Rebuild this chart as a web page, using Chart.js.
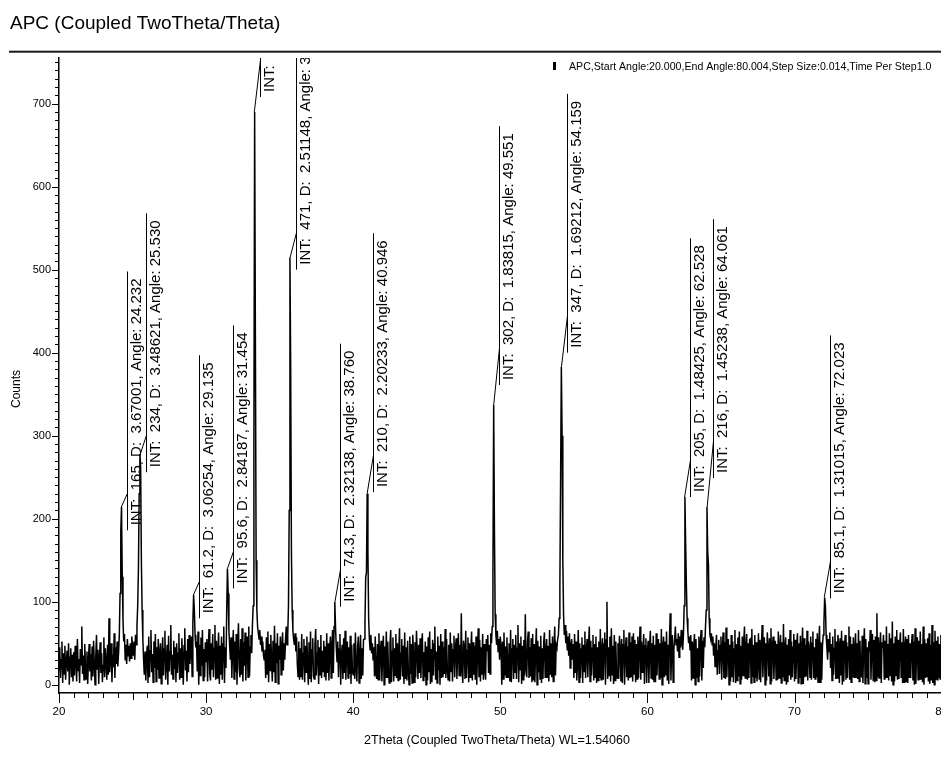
<!DOCTYPE html>
<html><head><meta charset="utf-8">
<script src="https://cdn.jsdelivr.net/npm/chart.js@4.4.1/dist/chart.umd.min.js"></script>
<style>
html,body{margin:0;padding:0;background:#fff;overflow:hidden;}
#wrap{position:absolute;left:0;top:0;width:960px;height:759px;}
</style></head><body>
<div id="wrap"><canvas id="c"></canvas></div>
<script>
// ---------------- data ----------------
const titleText = 'APC (Coupled TwoTheta/Theta)';
const legendText = 'APC,Start Angle:20.000,End Angle:80.004,Step Size:0.014,Time Per Step1.0';
const xAxisTitle = '2Theta (Coupled TwoTheta/Theta) WL=1.54060';
const yAxisTitle = 'Counts';

const startAngle = 20.0;
const endAngle = 80.004;
const sampleStep = 0.05;   // read-off resolution (degrees 2Theta)

// counts, one row per degree (20.00 ... 79.95), then 80.00
const counts = [
18,45,8,30,52,2,38,13,47,6,27,41,16,50,0,33,44,9,36,4,
39,11,47,29,4,55,17,31,2,43,24,70,13,35,6,49,22,7,40,1,
28,49,16,37,5,46,10,53,26,0,34,60,19,42,1,31,51,14,38,3,
23,57,9,44,27,6,48,12,80,15,33,50,3,36,21,62,8,45,25,52,
22,38,60,110,185,214,130,78,52,61,30,48,25,55,35,47,28,50,32,58,
45,35,52,30,60,48,70,95,140,230,278,262,150,90,55,30,12,40,5,33,
47,2,58,9,41,66,15,37,3,52,20,61,4,45,18,55,8,39,50,1,
34,57,11,43,65,6,26,48,0,59,16,40,72,12,36,7,53,19,45,3,
50,14,38,62,6,44,9,56,33,0,47,68,17,41,4,55,15,60,25,42,
58,10,75,108,90,60,45,52,16,64,0,48,11,57,23,66,5,43,9,51,
28,55,4,46,67,13,5,50,18,61,9,44,72,6,53,8,40,63,1,47,
12,58,6,49,70,2,45,20,88,140,110,65,48,30,57,8,43,66,7,52,
15,61,0,48,74,19,9,55,12,68,4,51,23,63,5,46,58,9,70,10,
45,60,38,72,95,300,690,420,150,90,70,62,55,66,48,58,40,52,35,30,
42,8,57,13,64,3,49,17,60,28,4,53,15,71,3,50,26,62,1,47,
30,58,12,45,63,17,50,30,55,70,48,60,95,210,515,380,160,90,65,55,
48,62,40,57,25,10,52,6,44,9,61,6,38,55,3,47,15,58,23,0,
51,7,64,3,42,56,10,7,49,67,11,38,54,1,45,12,60,8,41,16,
53,9,46,5,62,14,50,5,40,58,8,47,66,14,70,100,68,45,28,52,
9,43,61,0,35,48,7,56,14,65,6,40,52,8,45,13,59,1,48,16,
12,50,7,63,19,4,46,58,2,35,60,7,44,11,54,55,75,130,135,230,
160,80,55,42,60,38,50,30,45,10,58,13,7,49,6,62,5,41,53,4,
37,59,0,46,8,64,9,52,15,2,48,66,3,40,57,4,44,11,61,8,
50,5,42,68,6,38,55,10,47,1,63,7,45,5,53,16,0,58,13,49,
2,60,38,3,51,9,65,41,7,48,14,56,8,44,62,5,39,9,52,0,
46,5,57,15,64,1,43,3,54,11,49,70,6,40,2,58,17,47,0,61,
8,52,9,45,13,67,8,55,19,6,48,4,63,16,50,4,42,59,9,44,
56,7,40,62,11,48,10,86,18,2,53,45,7,65,8,41,57,3,50,9,
43,64,5,51,12,47,6,58,0,40,68,9,54,4,45,12,61,6,49,18,
6,55,41,60,14,48,13,62,50,70,140,337,190,85,60,48,65,40,55,30,
58,45,0,52,7,63,11,46,9,57,20,8,50,4,66,3,43,55,7,48,
15,60,7,44,72,3,50,18,58,1,47,6,54,11,85,20,9,52,64,8,
45,10,56,3,61,5,49,3,42,68,0,53,15,46,7,59,2,44,7,51,
63,9,40,55,8,47,4,66,12,50,9,58,4,43,70,11,48,45,55,60,
80,120,250,383,300,150,85,60,72,50,65,42,58,35,62,20,47,55,30,49,
8,61,14,52,5,27,66,3,50,8,43,57,2,48,16,64,8,40,55,9,
47,70,4,53,11,44,60,5,49,9,58,2,45,5,52,8,67,6,42,56,
6,49,63,0,54,100,7,45,11,58,4,68,12,47,1,60,5,52,16,8,
50,7,59,43,4,55,2,48,66,0,41,57,9,46,5,63,8,51,10,58,
4,62,13,54,3,49,7,58,8,45,70,6,52,15,43,61,1,47,56,2,
39,53,2,46,65,8,50,6,59,4,48,3,62,11,44,55,7,50,8,67,
0,45,58,9,52,11,64,6,48,1,56,86,5,47,60,3,43,54,70,48,
55,40,62,33,58,45,66,50,42,60,95,226,170,120,80,64,50,58,42,60,
5,52,8,47,61,0,55,8,44,4,58,10,49,66,5,53,20,57,45,70,
90,214,160,145,80,60,55,62,48,58,35,50,22,46,60,12,41,54,13,47,
58,6,44,63,8,51,7,69,9,46,55,0,48,4,60,9,52,3,43,66,
2,49,5,57,10,64,1,47,6,58,11,53,70,8,45,61,6,50,8,54,
55,2,67,9,48,3,60,8,51,4,25,62,7,54,3,46,72,9,41,57,
0,50,5,63,45,10,56,1,68,4,47,58,7,42,53,6,49,6,64,8,
46,60,2,51,9,73,5,44,57,0,48,3,55,11,66,6,52,9,45,61,
4,54,7,47,62,2,50,8,59,1,44,69,1,56,9,48,10,65,5,52,
43,8,58,6,50,64,8,45,7,55,9,62,3,48,71,3,51,6,46,60,
75,105,95,60,45,30,55,40,63,20,49,5,58,12,44,67,7,52,8,60,
48,2,56,11,65,0,53,4,47,60,6,51,8,45,70,6,58,3,49,9,
57,9,44,62,8,50,7,66,4,53,11,10,59,2,47,68,1,55,8,45,
1,52,40,66,6,48,61,5,54,3,58,5,86,9,57,8,46,63,2,51,
44,60,7,53,8,70,9,49,5,62,11,56,4,76,0,50,4,58,11,66,
6,54,7,48,63,9,51,2,67,3,46,58,3,55,2,60,9,50,8,47,
61,5,52,0,68,1,45,57,6,53,6,64,7,49,3,70,0,55,8,50,
9,56,4,62,1,48,5,72,2,51,0,65,6,53,6,58,8,49,7,60,
42
];

// peak annotations (EVA peak list)
const peakAngleText = ['24.232','25.530','29.135','31.454','33.277','35.716','38.760','40.946','49.551','54.159','62.528','64.061','72.023'];
const peakINT       = ['165','234','61.2','95.6','648','471','74.3','210','302','347','205','216','85.1'];
const peakD         = ['3.67001','3.48621','3.06254','2.84187','2.69003','2.51148','2.32138','2.20233','1.83815','1.69212','1.48425','1.45238','1.31015'];
const peakTopCounts = [214,278,108,140,690,515,100,230,337,383,226,214,105];
const labelBaseCounts = [186,256,80,116,708,500,94,232,361,400,226,249,104];

const yTickValues = [0,100,200,300,400,500,600,700];
const xTickValues = [20,30,40,50,60,70,80];
const yMin = -10, yMax = 755;

// ---------------- chart ----------------
const FONT = '"Liberation Sans", Arial, Helvetica, sans-serif';
const points = counts.map((c, i) => ({ x: startAngle + i * sampleStep, y: c }));

const decorPlugin = {
  id: 'decor',
  afterDatasetsDraw(chart) {
    const { ctx, chartArea: a, scales: { x, y } } = chart;
    ctx.save();
    ctx.beginPath();
    ctx.rect(a.left, a.top, a.right - a.left, a.bottom - a.top);
    ctx.clip();
    ctx.strokeStyle = '#000';
    ctx.fillStyle = '#000';
    ctx.lineWidth = 1;
    ctx.font = '15px ' + FONT;
    peakAngleText.forEach((angT, i) => {
      const ang = parseFloat(angT);
      const px = x.getPixelForValue(ang);
      const py = y.getPixelForValue(peakTopCounts[i]);
      const lx = Math.round(px + 5.5) + 0.5;
      const baseY = y.getPixelForValue(labelBaseCounts[i]);
      const leadY = baseY - 37;
      const text = 'INT:  ' + peakINT[i] + ', D:  ' + peakD[i] + ', Angle: ' + angT;
      const w = ctx.measureText(text).width;
      ctx.beginPath();
      ctx.moveTo(px, py);
      ctx.lineTo(lx, leadY);
      ctx.stroke();
      ctx.beginPath();
      ctx.moveTo(lx, baseY);
      ctx.lineTo(lx, baseY - w - 12);
      ctx.stroke();
      ctx.save();
      ctx.translate(lx + 2, baseY - 5);
      ctx.rotate(-Math.PI / 2);
      ctx.textAlign = 'left';
      ctx.textBaseline = 'top';
      ctx.fillText(text, 0, 0);
      ctx.restore();
    });
    ctx.restore();
  },
  afterDraw(chart) {
    const { ctx, chartArea: a, scales: { x, y } } = chart;
    ctx.save();
    ctx.strokeStyle = '#000';
    ctx.fillStyle = '#000';
    ctx.lineWidth = 1;
    // y ticks
    for (let v = 0; v <= 750; v += 10) {
      const py = Math.round(y.getPixelForValue(v)) + 0.5;
      const len = (v % 100 === 0) ? 7 : 4;
      ctx.beginPath(); ctx.moveTo(a.left, py); ctx.lineTo(a.left - len, py); ctx.stroke();
    }
    // x ticks
    for (let v = 20; v <= 80; v += 1) {
      const px = Math.round(x.getPixelForValue(v)) + 0.5;
      const len = (v % 10 === 0) ? 10 : (v % 5 === 0 ? 7 : 5);
      ctx.beginPath(); ctx.moveTo(px, a.bottom); ctx.lineTo(px, a.bottom + len); ctx.stroke();
    }
    // title
    ctx.font = '19px ' + FONT;
    ctx.textAlign = 'left';
    ctx.textBaseline = 'alphabetic';
    ctx.fillText(titleText, 10, 29);
    // rule under title
    ctx.fillStyle = '#1a1a1a';
    ctx.fillRect(9, 50.7, 960, 2);
    // legend
    ctx.fillStyle = '#000';
    ctx.fillRect(553, 62, 3, 8);
    ctx.font = '10.6px ' + FONT;
    ctx.fillText(legendText, 569, 69.5);
    // axis titles
    ctx.font = '12.5px ' + FONT;
    ctx.textAlign = 'center';
    ctx.textBaseline = 'middle';
    ctx.fillText(xAxisTitle, 497, 741);
    ctx.save();
    ctx.translate(17, 389);
    ctx.rotate(-Math.PI / 2);
    ctx.font = '12px ' + FONT;
    ctx.fillText(yAxisTitle, 0, 0);
    ctx.restore();
    ctx.restore();
  }
};

new Chart(document.getElementById('c'), {
  type: 'line',
  data: {
    datasets: [{
      label: 'APC',
      data: points,
      borderColor: '#000',
      borderWidth: 1.5,
      pointRadius: 0,
      tension: 0,
      fill: false
    }]
  },
  options: {
    responsive: true,
    maintainAspectRatio: false,
    animation: false,
    events: [],
    layout: { padding: { left: 0, top: 58, right: 15.4, bottom: 0 } },
    plugins: { legend: { display: false }, title: { display: false }, tooltip: { enabled: false } },
    scales: {
      x: {
        type: 'linear',
        min: startAngle,
        max: endAngle,
        afterBuildTicks: s => { s.ticks = xTickValues.map(v => ({ value: v })); },
        afterFit: s => { s.height = 66; },
        grid: { display: false, drawTicks: false },
        border: { display: true, color: '#000', width: 1.5 },
        ticks: { color: '#000', font: { size: 11.5, family: FONT }, padding: 12, maxRotation: 0, autoSkip: false, callback: v => String(v) }
      },
      y: {
        type: 'linear',
        min: yMin,
        max: yMax,
        afterBuildTicks: s => { s.ticks = yTickValues.map(v => ({ value: v })); },
        afterFit: s => { s.width = 59; },
        grid: { display: false, drawTicks: false },
        border: { display: true, color: '#000', width: 1.5 },
        ticks: { color: '#000', font: { size: 11, family: FONT }, padding: 8, autoSkip: false, callback: v => String(v) }
      }
    }
  },
  plugins: [decorPlugin]
});
</script>
</body></html>
